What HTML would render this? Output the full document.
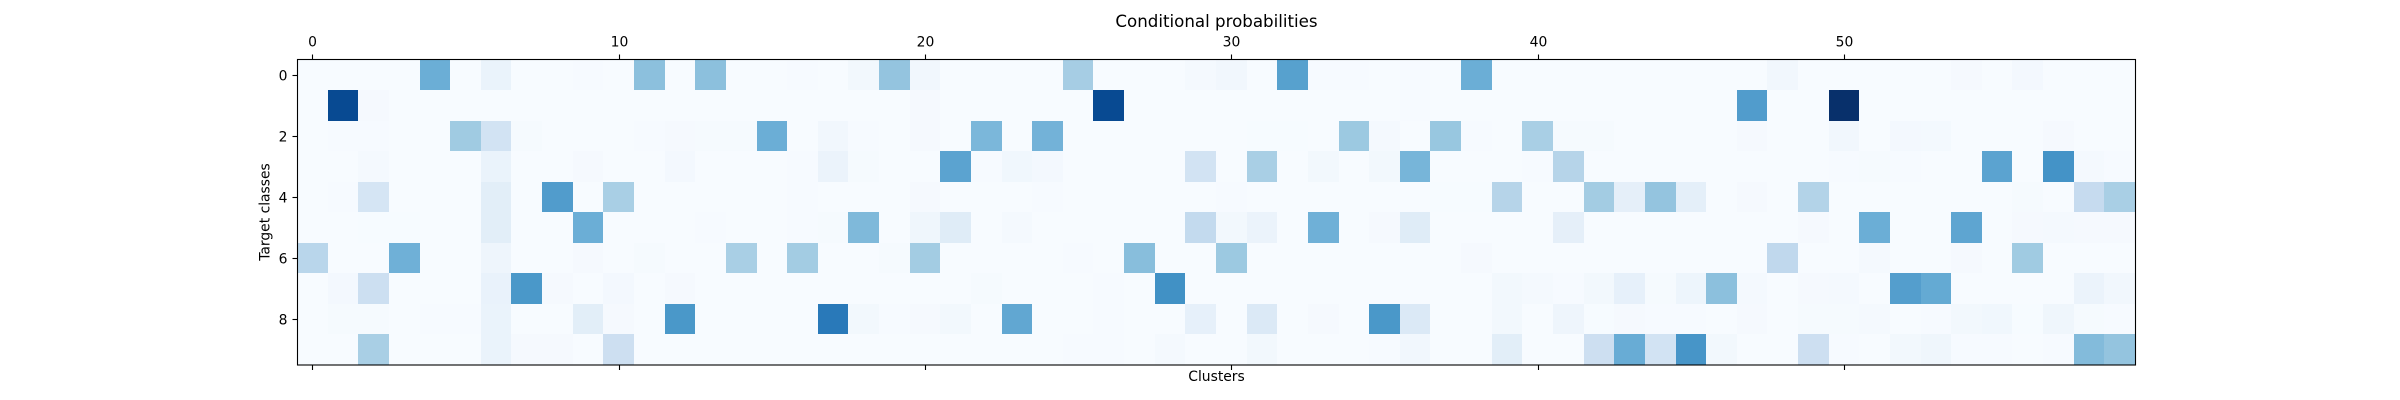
<!DOCTYPE html>
<html lang="en">
<head>
<meta charset="utf-8">
<title>Conditional probabilities</title>
<style>
  html, body { margin: 0; padding: 0; background: #fff; width: 2400px; height: 400px; overflow: hidden; }
  svg { display: block; }
  text { font-family: "DejaVu Sans", sans-serif; fill: #000; }
</style>
</head>
<body>
<svg id="chart" xmlns="http://www.w3.org/2000/svg" width="2400" height="400" viewBox="0 0 2400 400">
  <rect x="0" y="0" width="2400" height="400" fill="#fff"/>
  <g id="cells" shape-rendering="crispEdges"></g>
  <rect x="297.5" y="59.5" width="1838" height="305.5" fill="none" stroke="#000" stroke-width="1.1"/>
  <g id="ticks"></g>
  <text x="1216.5" y="27" font-size="16.67" text-anchor="middle">Conditional probabilities</text>
  <text x="1216.5" y="381" font-size="13.89" text-anchor="middle">Clusters</text>
  <text transform="translate(269.5 212) rotate(-90)" font-size="13.89" text-anchor="middle">Target classes</text>
</svg>
<script>
const row0 = [0,0,0,0,.5,0,.065,0,0,.005, 0,.42,0,.42,0,0,.004,0,.025,.4, .03,0,0,0,.002,.35,0,.002,0,.015, .03,0,.56,.004,.004,.002,.006,0,.5,0, 0,0,0,0,0,0,0,0,.03,0, 0,0,0,0,.012,0,.02,0,0,0];
const row1 = [0,.9,.012,0,0,0,.002,0,0,0, 0,0,0,0,0,0,0,0,0,0, .012,0,0,0,0,0,.9,0,0,0, 0,0,0,0,0,0,.004,0,0,0, 0,0,0,0,0,0,0,.58,0,0, 1,0,0,0,0,0,0,0,0,0];
const row2 = [0,.005,.005,0,0,.37,.19,.01,0,0, 0,.005,.012,.01,.01,.5,0,.03,.004,0, .012,0,.46,0,.48,0,.002,0,0,0, .002,.003,.003,0,.38,.015,0,.39,.004,0, .34,.008,.01,0,0,0,0,.012,0,0, .03,0,.02,.018,0,0,0,.012,0,0];
const row3 = [0,.002,.015,0,0,.002,.065,0,0,.012, 0,0,.02,0,0,.002,.004,.06,.008,0, .002,.55,.005,.035,.02,0,.002,0,0,.19, 0,.34,0,.025,0,.025,.47,0,0,0, .004,.3,0,.002,0,0,0,0,0,0, .004,.01,.004,.002,0,.55,0,.62,.015,.004];
const row4 = [0,.005,.17,0,0,.002,.105,0,.58,0, .34,0,0,0,0,.002,.004,0,0,0, .012,0,0,0,.006,.002,0,0,0,0, .004,0,0,0,0,0,0,.003,.003,.3, 0,0,.36,.09,.4,.095,0,.012,0,.31, 0,0,0,0,0,0,.01,0,.25,.34];
const row5 = [0,0,.003,.003,.002,.002,.105,0,0,.5, 0,0,0,.004,0,0,.004,.01,.45,.002, .04,.12,0,.015,.002,0,.002,0,0,.26, .025,.06,0,.49,0,.012,.12,0,0,0, 0,.09,0,.002,0,0,0,0,0,.012, 0,.5,0,0,.54,0,.012,.015,.012,.012];
const row6 = [.29,0,0,.49,.002,.002,.045,0,0,.012, .002,.01,0,0,.34,0,.36,0,0,.01, .36,0,0,0,0,.005,0,.43,0,0, .38,0,0,0,0,0,0,0,.012,0, 0,0,0,0,0,0,0,0,.27,0, 0,.015,0,0,.012,0,.37,0,0,0];
const row7 = [0,.02,.22,0,.002,.002,.07,.6,.012,.002, .02,.002,.012,0,0,0,0,0,0,.002, 0,0,.01,0,0,.002,.004,0,.63,0, 0,0,0,0,0,0,0,0,0,.025, .015,.004,.025,.085,.008,.05,.42,.015,.002,.012, .015,0,.57,.52,0,0,0,0,.06,.03];
const row8 = [0,.008,.008,.002,.006,.004,.065,0,0,.105, .012,0,.6,0,0,0,0,.72,.025,.006, .012,.025,0,.53,0,.002,.004,0,0,.085, 0,.14,0,.012,0,.6,.14,0,0,.025, 0,.045,.003,.012,.006,.006,.002,.012,.002,.01, .01,.015,.002,.004,.025,.035,.003,.04,.008,.004];
const row9 = [0,.002,.34,0,0,0,.065,.012,.012,.002, .215,0,0,0,0,0,.002,.002,.002,.002, 0,0,0,0,0,.004,.004,.002,.015,.002, 0,.025,0,0,0,.006,.03,0,0,.105, .002,.002,.215,.51,.19,.61,.025,.002,0,.215, .004,.002,.025,.04,.004,.006,.002,.004,.44,.4];
const classRows = [row0, row1, row2, row3, row4, row5, row6, row7, row8, row9];

const topTickLabels = [0, 10, 20, 30, 40, 50];
const yTickLabels = [0, 2, 4, 6, 8];

const svgNS = 'http://www.w3.org/2000/svg';
const plotLeft = 297, plotTop = 59.5, plotWidth = 1838, plotBottom = 365;
const colCount = classRows[0].length, rowCount = classRows.length;
const colScale = c => plotLeft + (c / colCount) * plotWidth;
const rowScale = r => plotTop + (r / rowCount) * (plotBottom - plotTop);

const blues = [[247,251,255],[222,235,247],[198,219,239],[158,202,225],[107,174,214],[66,146,198],[33,113,181],[8,81,156],[8,48,107]];
function colorFor(v) {
  const t = Math.max(0, Math.min(1, v)) * (blues.length - 1);
  const i = Math.min(blues.length - 2, Math.floor(t));
  const f = t - i;
  const c = blues[i].map((a, k) => Math.round(a + (blues[i + 1][k] - a) * f));
  return 'rgb(' + c.join(',') + ')';
}

const cellsGroup = document.getElementById('cells');
classRows.forEach((row, r) => {
  row.forEach((value, c) => {
    const x0 = Math.round(colScale(c)), x1 = Math.round(colScale(c + 1));
    const y0 = Math.round(rowScale(r)), y1 = Math.round(rowScale(r + 1));
    const cell = document.createElementNS(svgNS, 'rect');
    
    
    cell.setAttribute('x', x0);
    cell.setAttribute('y', y0);
    cell.setAttribute('width', x1 - x0);
    cell.setAttribute('height', y1 - y0);
    cell.setAttribute('fill', colorFor(value));
    cellsGroup.appendChild(cell);
  });
});

const ticksGroup = document.getElementById('ticks');
function tickLine(x1, y1, x2, y2) {
  const line = document.createElementNS(svgNS, 'line');
  
  
  line.setAttribute('x1', x1);
  line.setAttribute('y1', y1);
  line.setAttribute('x2', x2);
  line.setAttribute('y2', y2);
  line.setAttribute('stroke', '#000');
  line.setAttribute('stroke-width', '1.1');
  ticksGroup.appendChild(line);
}
function tickText(x, y, label, anchor) {
  const t = document.createElementNS(svgNS, 'text');
  
  
  t.setAttribute('x', x);
  t.setAttribute('y', y);
  t.setAttribute('font-size', '13.89');
  t.setAttribute('text-anchor', anchor);
  t.textContent = label;
  ticksGroup.appendChild(t);
}
topTickLabels.forEach(label => {
  const x = Math.round(colScale(label + 0.5)) + 0.5;
  tickLine(x, 59.5, x, 54.5);
  tickLine(x, 365, x, 370);
  tickText(x, 46.5, String(label), 'middle');
});
yTickLabels.forEach(label => {
  const y = Math.round(rowScale(label + 0.5)) + 0.5;
  tickLine(297.5, y, 292.5, y);
  tickText(287.5, y + 5, String(label), 'end');
});
</script>
</body>
</html>
